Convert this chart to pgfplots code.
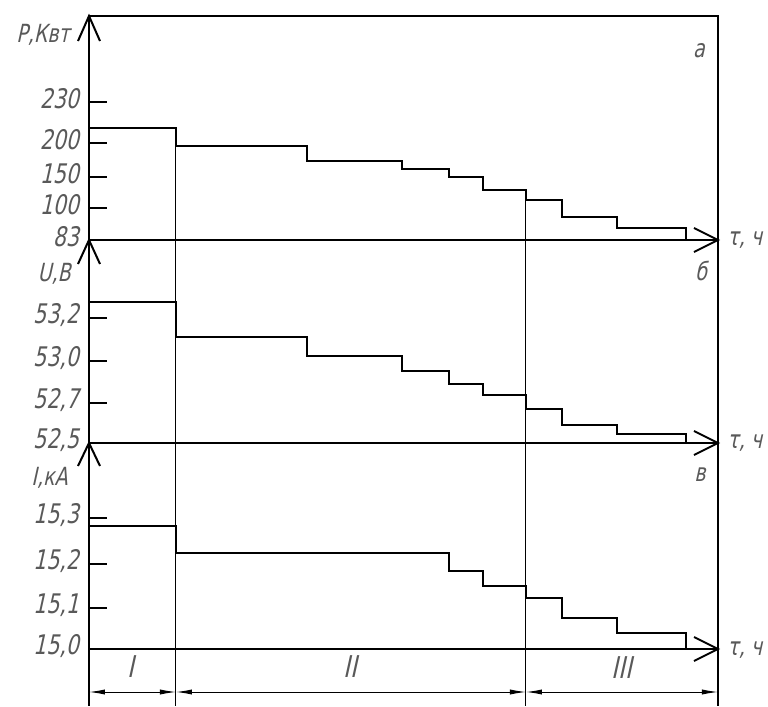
\documentclass[border=0pt]{standalone}
\usepackage{pgfplots}
\pgfplotsset{compat=1.18}
\usepackage{fontspec}
\setmainfont{DejaVu Sans}
\newfontfamily\gost{DejaVu Sans}[FakeSlant=0.22,FakeStretch=0.76]
\usetikzlibrary{arrows.meta}
\begin{document}
\begin{tikzpicture}
\begin{axis}[
  scale only axis, width=314.5pt, height=345pt,
  xmin=89, xmax=718, ymin=16, ymax=706, y dir=reverse,
  axis x line=none, axis y line*=left,
  y axis line style={line width=1pt},
  xtick=\empty,
  ytick={102,143,177,208,240,318,361,403,443,518,564,608,649},
  yticklabels={230,200,150,100,83,{53,2},{53,0},{52,7},{52,5},{15,3},{15,2},{15,1},{15,0}},
  tick align=inside, major tick length=9pt,
  every tick/.style={black, line width=1pt},
  yticklabel style={font=\gost\fontsize{13.5}{13.5}\selectfont, text=black!65, yshift=1.5pt, xshift=-1.5pt},
  clip=false,
]
% bounding area
\path (axis cs:0,0) rectangle (axis cs:768,706);
% frame
\addplot[line width=1pt] coordinates {(89,16) (718,16) (718,706)};
\addplot[line width=1pt] coordinates {(89,240) (718,240)};
\addplot[line width=1pt] coordinates {(89,443) (718,443)};
\addplot[line width=1pt] coordinates {(89,649) (718,649)};
\addplot[line width=0.5pt] coordinates {(176,128) (176,706)};
\addplot[line width=0.5pt] coordinates {(526,190) (526,706)};
% y-axis arrowheads
\addplot[line width=1pt] coordinates {(78,41) (89,16) (100,41)};
\addplot[line width=1pt] coordinates {(78,264) (89,240) (100,264)};
\addplot[line width=1pt] coordinates {(78,466) (89,443) (100,466)};
% x-axis arrowheads
\addplot[line width=1pt] coordinates {(694,228) (718,240) (694,252)};
\addplot[line width=1pt] coordinates {(694,431) (718,443) (694,455)};
\addplot[line width=1pt] coordinates {(694,637) (718,649) (694,661)};
% P
\addplot[const plot, line width=1.3pt] coordinates {(89,128) (176,146) (307,161) (402,169) (449,177) (483,190) (526,200) (562,217) (617,228) (686,228) (686,240)};
% U
\addplot[const plot, line width=1.3pt] coordinates {(89,302) (176,337) (307,356) (402,371) (449,384) (483,395) (526,409) (562,425) (617,434) (686,434) (686,443)};
% I
\addplot[const plot, line width=1.3pt] coordinates {(89,526) (176,553) (449,571) (483,586) (526,598) (562,618) (617,633) (686,633) (686,649)};
% dimension line
\addplot[line width=0.5pt, {Latex[length=8pt,width=2.6pt]}-{Latex[length=8pt,width=2.6pt]}] coordinates {(89,692) (176,692)};
\addplot[line width=0.5pt, {Latex[length=8pt,width=2.6pt]}-{Latex[length=8pt,width=2.6pt]}] coordinates {(176,692) (526,692)};
\addplot[line width=0.5pt, {Latex[length=8pt,width=2.6pt]}-{Latex[length=8pt,width=2.6pt]}] coordinates {(526,692) (718,692)};
% labels
\begin{scope}[every node/.style={font=\gost\fontsize{12.5}{12.5}\selectfont, text=black!65, inner sep=0pt}]
\node[anchor=east] at (axis cs:70,35) {P,Квт};
\node[anchor=east] at (axis cs:71,274) {U,В};
\node[anchor=east] at (axis cs:68,478) {I,кА};
\node[anchor=west] at (axis cs:727,240) {τ, ч};
\node[anchor=west] at (axis cs:727,443) {τ, ч};
\node[anchor=west] at (axis cs:727,650) {τ, ч};
\node at (axis cs:699,51) {а};
\node at (axis cs:701,271) {б};
\node at (axis cs:700,475) {в};
\node[font=\gost\fontsize{15}{15}\selectfont] at (axis cs:131,667) {I};
\node[font=\gost\fontsize{15}{15}\selectfont] at (axis cs:350,667) {II};
\node[font=\gost\fontsize{15}{15}\selectfont] at (axis cs:622,668) {III};
\end{scope}
\end{axis}
\end{tikzpicture}
\end{document}
